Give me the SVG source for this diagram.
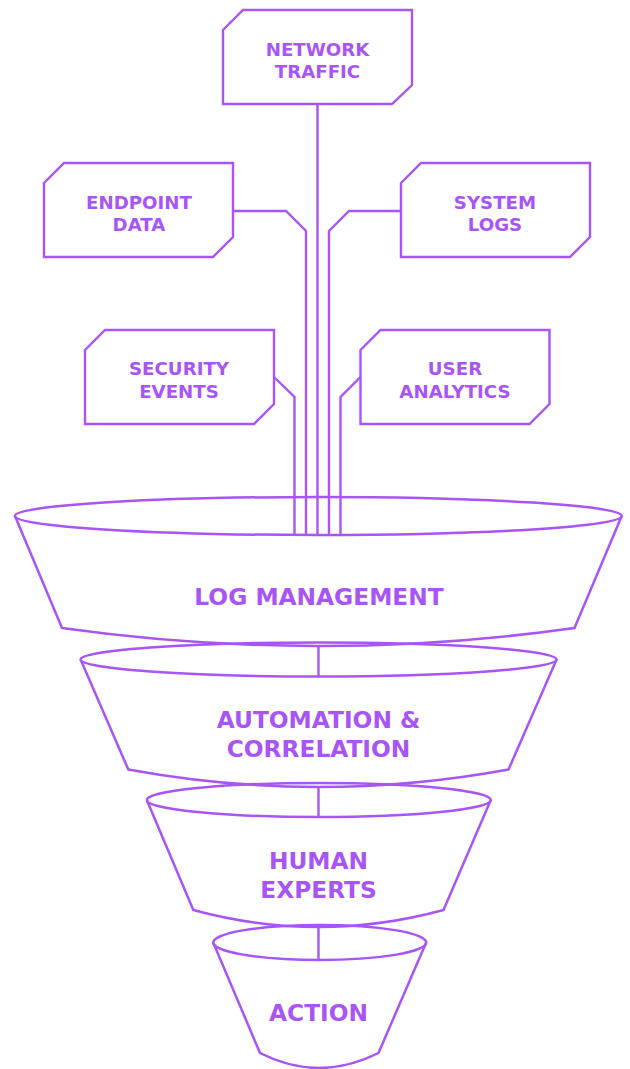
<svg xmlns="http://www.w3.org/2000/svg" width="630" height="1069" viewBox="0 0 630 1069">
<style>
.ln{fill:none;stroke:#a855f7;stroke-width:2.4;stroke-linejoin:miter}
.box{fill:#ffffff;stroke:#a855f7;stroke-width:2.4}
.fn{fill:none;stroke:#a855f7;stroke-width:2.5;stroke-linejoin:round}
.t{font-family:"DejaVu Sans","Liberation Sans",sans-serif;font-weight:bold;fill:#a855f7;text-anchor:middle}
.s{font-size:18.2px}
.b{font-size:23.3px}
</style>
<rect width="630" height="1069" fill="#ffffff"/>
<g id="connectors">
<path class="ln" d="M317.5 104 V535"/>
<path class="ln" d="M233 211 H286 L306 231 V535"/>
<path class="ln" d="M401 211 H349 L329 231 V535"/>
<path class="ln" d="M274 377 L294.5 397 V535"/>
<path class="ln" d="M360.5 377 L340.5 397 V535"/>
<path class="ln" d="M318.5 645 V676"/>
<path class="ln" d="M318.5 786 V817"/>
<path class="ln" d="M318.5 926 V960"/>
</g>
<g id="network-traffic">
<polygon class="box" points="223,30 243,10 412,10 412,85 392,104 223,104"/>
<text class="t s" x="317.5" y="56">NETWORK</text>
<text class="t s" x="317.5" y="78">TRAFFIC</text>
</g>
<g id="endpoint-data">
<polygon class="box" points="44,183 64,163 233,163 233,237 213,257 44,257"/>
<text class="t s" x="139" y="209">ENDPOINT</text>
<text class="t s" x="139" y="231">DATA</text>
</g>
<g id="system-logs">
<polygon class="box" points="401,183 421,163 590,163 590,237 570,257 401,257"/>
<text class="t s" x="495" y="209">SYSTEM</text>
<text class="t s" x="495" y="231">LOGS</text>
</g>
<g id="security-events">
<polygon class="box" points="85,350 105,330 274,330 274,404 254,424 85,424"/>
<text class="t s" x="179" y="375">SECURITY</text>
<text class="t s" x="179" y="397.5">EVENTS</text>
</g>
<g id="user-analytics">
<polygon class="box" points="360.5,350 380.5,330 549.5,330 549.5,404 529.5,424 360.5,424"/>
<text class="t s" x="455" y="375">USER</text>
<text class="t s" x="455" y="397.5">ANALYTICS</text>
</g>
<g id="log-management">
<ellipse class="fn" cx="318.3" cy="516" rx="303.5" ry="19"/>
<path class="fn" d="M15 516 L62 628 Q318 664 574.5 628 L621.7 516"/>
<text class="t b" x="319" y="605">LOG MANAGEMENT</text>
</g>
<g id="automation-correlation">
<ellipse class="fn" cx="318.6" cy="659.5" rx="238" ry="17"/>
<path class="fn" d="M80.6 659.5 L128.3 769.5 Q318.5 804.5 508.5 769.5 L556.6 659.5"/>
<text class="t b" x="318.5" y="727.7">AUTOMATION &amp;</text>
<text class="t b" x="318.5" y="756.7">CORRELATION</text>
</g>
<g id="human-experts">
<ellipse class="fn" cx="318.8" cy="800" rx="172" ry="17"/>
<path class="fn" d="M146.8 800 L193.3 910 Q318.5 944 443.5 910 L490.8 800"/>
<text class="t b" x="318.5" y="869">HUMAN</text>
<text class="t b" x="318.5" y="898.3">EXPERTS</text>
</g>
<g id="action">
<ellipse class="fn" cx="319.7" cy="942.5" rx="106.5" ry="17.5"/>
<path class="fn" d="M213.2 942.5 L260 1053 Q319 1083 378.5 1053 L426.2 942.5"/>
<text class="t b" x="318.5" y="1021">ACTION</text>
</g>
</svg>
